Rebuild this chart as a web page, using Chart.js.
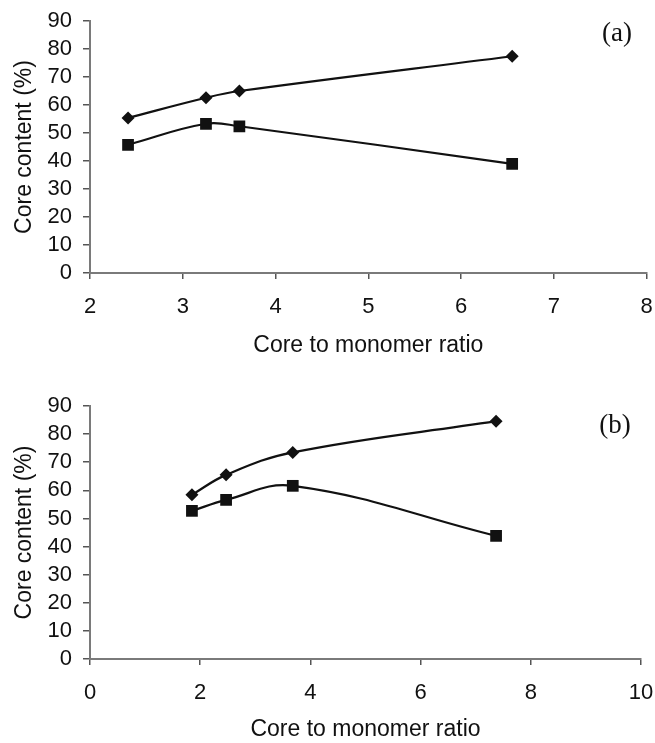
<!DOCTYPE html>
<html>
<head>
<meta charset="utf-8">
<script src="https://cdn.jsdelivr.net/npm/chart.js@4.4.0/dist/chart.umd.min.js"></script>
<style>
   body { margin: 0; background: #fff; }
   #wrap { position: relative; width: 655px; height: 743px; }
   #chart-a { position: absolute; left: 0; top: 0; }
   #chart-b { position: absolute; left: 0; top: 370px; }
</style>
</head>
<body>
<div id="wrap">
   <canvas id="chart-a" width="655" height="365"></canvas>
   <canvas id="chart-b" width="655" height="373"></canvas>
</div>
<script>
// panel (a)
var ratioA = [2.41, 3.25, 3.61, 6.55];
var upperA = [55.4, 62.6, 65.0, 77.4];
var lowerA = [45.8, 53.3, 52.4, 39.0];

// panel (b)
var ratioB = [1.85, 2.47, 3.68, 7.37];
var upperB = [58.4, 65.5, 73.5, 84.6];
var lowerB = [52.7, 56.6, 61.6, 43.8];

var yTicks = [0, 10, 20, 30, 40, 50, 60, 70, 80, 90];
var xTitle = "Core to monomer ratio";
var yTitle = "Core content (%)";

function toPoints(xs, ys) {
   return xs.map(function (x, i) {
      return { x: x, y: ys[i] };
   });
}

// draws the "(a)" / "(b)" tag
var panelTag = {
   id: "panelTag",
   afterDraw: function (chart, args, opts) {
      var ctx = chart.ctx;
      ctx.save();
      ctx.font = "27px 'Liberation Serif'";
      ctx.fillStyle = "#111";
      ctx.textAlign = "center";
      ctx.textBaseline = "middle";
      ctx.fillText(opts.text, opts.x, opts.y);
      ctx.restore();
   },
};

function drawPanel(canvasId, xs, upper, lower, xMin, xMax, xStep, pad, xAxisH, tag) {
   var ctx = document.getElementById(canvasId).getContext("2d");
   var tickFont = { size: 22, family: "'Liberation Sans', Arial", lineHeight: 1.2 };
   var titleFont = { size: 23, family: "'Liberation Sans', Arial", lineHeight: 1.2 };

   return new Chart(ctx, {
      type: "line",
      plugins: [panelTag],
      data: {
         datasets: [
            {
               data: toPoints(xs, upper),
               borderColor: "#111",
               backgroundColor: "#111",
               borderWidth: 2.2,
               tension: 0.4,
               pointStyle: "rectRot",
               pointRadius: 6.5,
               pointBorderWidth: 0,
            },
            {
               data: toPoints(xs, lower),
               borderColor: "#111",
               backgroundColor: "#111",
               borderWidth: 2.2,
               tension: 0.4,
               pointStyle: "rect",
               pointRadius: 8.3,
               pointBorderWidth: 0,
            },
         ],
      },
      options: {
         responsive: false,
         animation: false,
         layout: {
            padding: { top: pad.top, right: pad.right, left: 0, bottom: 0 },
         },
         plugins: {
            legend: { display: false },
            tooltip: { enabled: false },
            panelTag: tag,
         },
         scales: {
            x: {
               type: "linear",
               min: xMin,
               max: xMax,
               afterFit: function (scale) {
                  scale.height = xAxisH;
                  scale.paddingLeft = 0;
                  scale.paddingRight = 0;
               },
               border: { display: true, color: "#7a7a7a", width: 2 },
               grid: {
                  drawOnChartArea: false,
                  drawTicks: true,
                  tickLength: 6,
                  color: "#555",
                  lineWidth: 1.5,
               },
               ticks: {
                  stepSize: xStep,
                  padding: 15,
                  color: "#111",
                  font: tickFont,
                  maxRotation: 0,
                  autoSkip: false,
               },
               title: {
                  display: true,
                  text: xTitle,
                  color: "#111",
                  font: titleFont,
                  padding: { top: 0, bottom: pad.xTitle },
               },
            },
            y: {
               type: "linear",
               min: 0,
               max: 90,
               afterFit: function (scale) {
                  scale.width = 90;
                  scale.paddingTop = 0;
                  scale.paddingBottom = 0;
               },
               afterBuildTicks: function (scale) {
                  scale.ticks = yTicks.map(function (v) {
                     return { value: v };
                  });
               },
               border: { display: true, color: "#7a7a7a", width: 2 },
               grid: {
                  drawOnChartArea: false,
                  drawTicks: true,
                  tickLength: 7,
                  color: "#555",
                  lineWidth: 1.5,
               },
               ticks: {
                  padding: 11,
                  color: "#111",
                  font: tickFont,
                  autoSkip: false,
               },
               title: {
                  display: true,
                  text: yTitle,
                  color: "#111",
                  font: titleFont,
                  padding: { top: 11, bottom: 0 },
               },
            },
         },
      },
   });
}

window.graficaA = drawPanel("chart-a", ratioA, upperA, lowerA, 2, 8, 1,
   { top: 21, right: 8, xTitle: 6 }, 92, { text: "(a)", x: 617, y: 34 });

window.graficaB = drawPanel("chart-b", ratioB, upperB, lowerB, 0, 10, 2,
   { top: 36, right: 14, xTitle: 0 }, 84, { text: "(b)", x: 615, y: 56 });
</script>
</body>
</html>
